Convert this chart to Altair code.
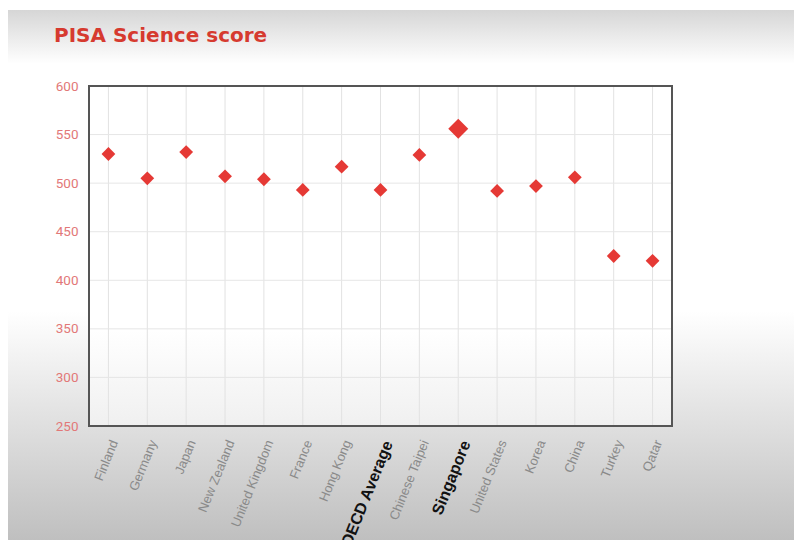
import altair as alt
import pandas as pd

countries = ["Finland", "Germany", "Japan", "New Zealand", "United Kingdom", "France",
             "Hong Kong", "OECD Average", "Chinese Taipei", "Singapore", "United States",
             "Korea", "China", "Turkey", "Qatar"]
scores = [530, 505, 532, 507, 504, 493, 517, 493, 529, 556, 492, 497, 506, 425, 420]
y_grid = [300, 350, 400, 450, 500, 550]
y_ticks = [250, 300, 350, 400, 450, 500, 550, 600]

df = pd.DataFrame({"country": countries, "score": scores,
                   "big": [c == "Singapore" for c in countries]})
grid_df = pd.DataFrame({"v": y_grid})

W, H = 583, 340
RED = "#e53935"

xscale = alt.Scale(type="point", padding=0.5, domain=countries)
yscale = alt.Scale(domain=[250, 600], nice=False, zero=False)

is_hl = "(datum.value == 'OECD Average' || datum.value == 'Singapore')"
xaxis = alt.Axis(labelAngle=-68, ticks=False, domain=False, grid=False, title=None,
                 labelPadding=12, zindex=1, labelFont="Liberation Sans",
                 labelBaseline="top", labelAlign="right",
                 labelColor=alt.expr(f"{is_hl} ? '#111111' : '#8a8a8a'"),
                 labelFontSize=alt.expr(f"{is_hl} ? 16 : 13"),
                 labelFontWeight=alt.expr(f"{is_hl} ? 'bold' : 'normal'"))
yaxis = alt.Axis(values=y_ticks, ticks=False, domain=False, grid=False, title=None,
                 labelPadding=11, zindex=1,
                 labelColor="#e27878", labelFontSize=13.5, labelFont="Roboto")

bg = alt.Chart(pd.DataFrame({"a": [0]})).mark_rect(
    color=alt.Gradient(
        gradient="linear", x1=0, x2=0, y1=0, y2=1,
        stops=[alt.GradientStop(color="#d6d6d6", offset=0),
               alt.GradientStop(color="#ffffff", offset=0.1),
               alt.GradientStop(color="#ffffff", offset=0.56),
               alt.GradientStop(color="#bdbdbd", offset=1)]),
).encode(x=alt.value(-81), x2=alt.value(713), y=alt.value(-76), y2=alt.value(462))

plotbg = alt.Chart(pd.DataFrame({"a": [0]})).mark_rect(
    color=alt.Gradient(
        gradient="linear", x1=0, x2=0, y1=0, y2=1,
        stops=[alt.GradientStop(color="#ffffff", offset=0),
               alt.GradientStop(color="#ffffff", offset=0.72),
               alt.GradientStop(color="#f0f0f0", offset=1)]),
).encode(x=alt.value(0), x2=alt.value(W), y=alt.value(0), y2=alt.value(H))

vgrid = alt.Chart(df).mark_rule(color="#e2e2e2", strokeWidth=1).encode(
    x=alt.X("country:N", scale=xscale, axis=xaxis, sort=countries))

hgrid = alt.Chart(grid_df).mark_rule(color="#e6e6e6", strokeWidth=1).encode(
    y=alt.Y("v:Q", scale=yscale, axis=yaxis))

points = alt.Chart(df).mark_point(shape="diamond", filled=True, color=RED, opacity=1).encode(
    x=alt.X("country:N", scale=xscale, sort=countries, axis=xaxis),
    y=alt.Y("score:Q", scale=yscale, axis=yaxis),
    size=alt.Size("big:N", scale=alt.Scale(domain=[False, True], range=[190, 400]), legend=None),
)

frame = alt.Chart(pd.DataFrame({"a": [0]})).mark_rect(
    filled=False, stroke="#555555", strokeWidth=2
).encode(x=alt.value(0), x2=alt.value(W), y=alt.value(0), y2=alt.value(H))

chart = alt.layer(bg, plotbg, vgrid, hgrid, points, frame).properties(
    width=W, height=H,
    autosize=alt.AutoSizeParams(type="none"),
    padding={"left": 81, "top": 78, "right": 122, "bottom": 114},
    title=alt.TitleParams("PISA Science score", anchor="start", frame="group", dx=-35,
                          offset=-52, baseline="alphabetic", font="DejaVu Sans",
                          fontSize=20, fontWeight="bold", color="#d63a2f"),
).configure_view(stroke=None)

chart.save("out.html", embed_options={"renderer": "svg", "actions": False})
